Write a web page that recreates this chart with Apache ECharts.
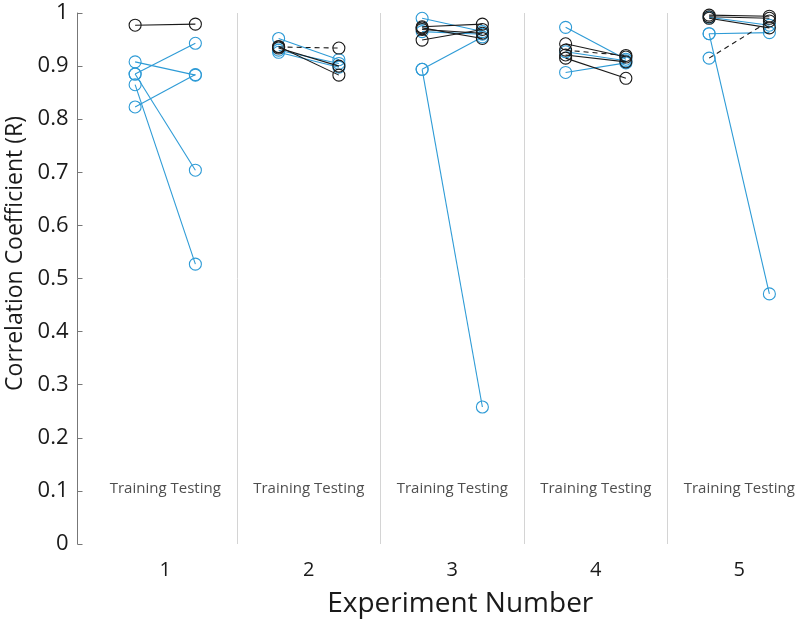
<!DOCTYPE html>
<html>
<head>
<meta charset="utf-8">
<script src="https://cdn.jsdelivr.net/npm/echarts@6/dist/echarts.min.js"></script>
<style>
  html, body { margin: 0; padding: 0; background: #fff; }
  #chart { width: 800px; height: 624px; }
</style>
</head>
<body>
<div id="chart"></div>
<script>
// 实验编号与每个实验的训练/测试相关系数
var experiments = ['1', '2', '3', '4', '5'];
var yTicks = [0, 0.1, 0.2, 0.3, 0.4, 0.5, 0.6, 0.7, 0.8, 0.9, 1];

// 蓝色受试者
var blueTrain = [
	[0.908, 0.885, 0.885, 0.865, 0.823],
	[0.952, 0.930, 0.926],
	[0.990, 0.965, 0.894, 0.894],
	[0.973, 0.927, 0.888],
	[0.992, 0.961, 0.961]
];
var blueTest = [
	[0.883, 0.943, 0.704, 0.527, 0.884],
	[0.912, 0.905, 0.898],
	[0.965, 0.960, 0.955, 0.258],
	[0.913, 0.910, 0.906],
	[0.977, 0.963, 0.471]
];
// 黑色受试者
var blackTrain = [
	[0.977],
	[0.937, 0.934],
	[0.974, 0.969, 0.949, 0.972],
	[0.942, 0.921, 0.915],
	[0.996, 0.993, 0.990]
];
var blackTest = [
	[0.979],
	[0.883, 0.900],
	[0.979, 0.962, 0.969, 0.952],
	[0.917, 0.908, 0.877],
	[0.994, 0.990, 0.972]
];
// 虚线
var dashTrain = [[], [0.936], [], [0.930], [0.915]];
var dashTest = [[], [0.934], [], [0.920], [0.985]];
var dashTrainBlue = [false, false, false, false, true];

var dividers = [1.5, 2.5, 3.5, 4.5];
var phaseLabelY = 0.105;
var trainOffset = -0.21;
var testOffset = 0.21;

var BLUE = '#2e9bd6';
var BLACK = '#1a1a1a';
var FONT = "'Open Sans', 'Noto Sans', sans-serif";

var myChart = echarts.init(document.getElementById('chart'), null, { renderer: 'canvas' });

function pairSeries(x, a, b, lineColor, c1, c2, dashed) {
	return {
		type: 'line',
		xAxisIndex: 1,
		symbol: 'circle',
		symbolSize: 12,
		silent: true,
		lineStyle: { color: lineColor, width: 1.1, type: dashed ? [5, 4] : 'solid' },
		data: [
			{ value: [x + trainOffset, a], itemStyle: { color: 'rgba(0,0,0,0)', borderColor: c1, borderWidth: 1.1 } },
			{ value: [x + testOffset, b], itemStyle: { color: 'rgba(0,0,0,0)', borderColor: c2, borderWidth: 1.1 } }
		],
		z: lineColor === BLUE ? 2 : 3
	};
}

var series = [];
for (var e = 0; e < experiments.length; e++) {
	var x = e + 1;
	for (var i = 0; i < blueTrain[e].length; i++) {
		series.push(pairSeries(x, blueTrain[e][i], blueTest[e][i], BLUE, BLUE, BLUE, false));
	}
	for (var j = 0; j < blackTrain[e].length; j++) {
		series.push(pairSeries(x, blackTrain[e][j], blackTest[e][j], BLACK, BLACK, BLACK, false));
	}
	for (var k = 0; k < dashTrain[e].length; k++) {
		series.push(pairSeries(x, dashTrain[e][k], dashTest[e][k], BLACK,
			dashTrainBlue[e] ? BLUE : BLACK, BLACK, true));
	}
}

// 分隔线 + "Training Testing" 文字
series.push({
	type: 'scatter',
	xAxisIndex: 1,
	symbolSize: 1,
	itemStyle: { color: 'rgba(0,0,0,0)' },
	silent: true,
	label: {
		show: true,
		position: 'inside',
		formatter: 'Training Testing',
		fontFamily: FONT,
		fontSize: 15,
		color: '#222'
	},
	data: experiments.map(function (d, idx) { return [idx + 1, phaseLabelY]; }),
	markLine: {
		silent: true,
		symbol: 'none',
		label: { show: false },
		lineStyle: { color: '#d4d4d4', width: 1, type: 'solid' },
		data: dividers.map(function (v) { return { xAxis: v }; })
	}
});

var option = {
	animation: false,
	backgroundColor: '#fff',
	grid: { left: 93.5, top: 13, width: 717.5, bottom: 80, containLabel: false, outerBoundsMode: 'none' },
	xAxis: [
		{
			type: 'category',
			data: experiments,
			boundaryGap: true,
			axisLine: { show: false },
			axisTick: { show: false },
			splitLine: { show: false },
			axisLabel: { fontFamily: FONT, fontSize: 20, color: '#1a1a1a', margin: 16 },
			name: 'Experiment Number',
			nameLocation: 'middle',
			nameGap: 46,
			nameTextStyle: { fontFamily: FONT, fontSize: 28, color: '#1a1a1a', padding: [0, 0, 0, 16] }
		},
		{
			type: 'value',
			min: 0.5,
			max: 5.5,
			show: false
		}
	],
	yAxis: {
		type: 'value',
		min: 0,
		max: 1,
		interval: 0.1,
		offset: 16,
		axisLine: { show: true, lineStyle: { color: '#777', width: 1 } },
		axisTick: { show: true, inside: true, length: 5, lineStyle: { color: '#777' } },
		splitLine: { show: false },
		axisLabel: {
			fontFamily: FONT, fontSize: 22, color: '#1a1a1a', margin: 9,
			formatter: function (v) {
				var t = yTicks.reduce(function (p, c) { return Math.abs(c - v) < Math.abs(p - v) ? c : p; });
				return String(t);
			}
		},
		name: 'Correlation Coefficient (R)',
		nameLocation: 'middle',
		nameGap: 50,
		nameTextStyle: { fontFamily: FONT, fontSize: 23, color: '#1a1a1a', padding: [0, 0, 0, 50] }
	},
	series: series
};

myChart.setOption(option);
</script>
</body>
</html>
